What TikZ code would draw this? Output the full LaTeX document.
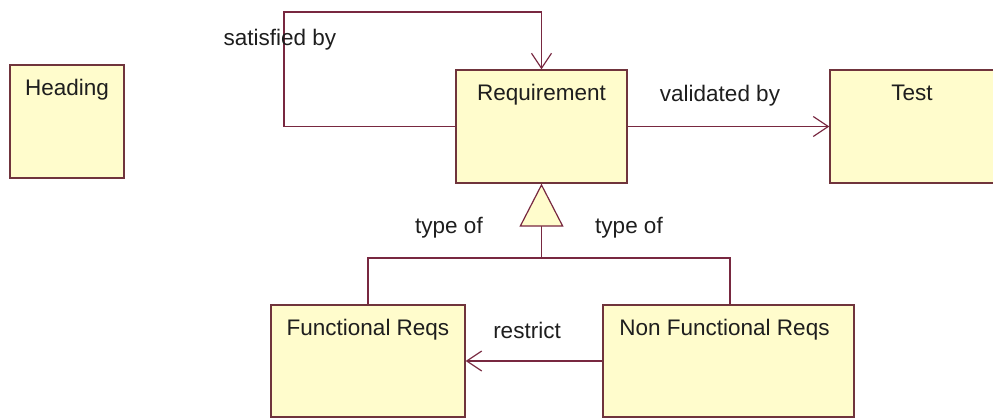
\documentclass[tikz,border=0pt]{standalone}
\usepackage{fontspec}
\setmainfont{Liberation Sans}
\usetikzlibrary{arrows.meta}
\definecolor{boxfill}{RGB}{255,252,204}
\definecolor{boxline}{RGB}{112,52,60}
\definecolor{conline}{RGB}{120,40,64}
\definecolor{txtcol}{RGB}{30,30,30}
\begin{document}
\begin{tikzpicture}[x=1pt,y=-1pt,
  font=\fontsize{22.5}{26}\selectfont,
  box/.style={draw=boxline, fill=boxfill, line width=1.3pt, inner sep=0pt},
  boxtext/.style={anchor=north, text=txtcol, inner sep=0pt, yshift=-15pt},
  lbl/.style={text=txtcol, inner sep=0pt},
  con/.style={draw=conline, line width=1.2pt},
  barb/.style={-{Straight Barb[length=15pt,width=20pt,line width=1.2pt]}},
  gentip/.style={-{Triangle[open, length=43pt, width=44pt, line width=1.2pt, fill=boxfill]}}
]
\useasboundingbox (0,0) rectangle (993,418);
\fill[white] (0,0) rectangle (993,418);

\node[box, minimum width=114pt, minimum height=113pt,
  label={[boxtext]north:Heading}] (head) at (67,121.5) {};
\node[box, minimum width=171pt, minimum height=113pt,
  label={[boxtext]north:Requirement}] (req) at (541.5,126.5) {};
\node[box, minimum width=180pt, minimum height=113pt,
  label={[boxtext, xshift=-8pt]north:Test}] (test) at (920,126.5) {};
\node[box, minimum width=194pt, minimum height=112pt,
  label={[boxtext]north:Functional Reqs}] (fr) at (368,361) {};
\node[box, minimum width=251pt, minimum height=112pt,
  label={[boxtext, xshift=-4pt]north:Non Functional Reqs}] (nfr) at (728.5,361) {};

% self association
\coordinate (loopA) at (284,12);
\draw[con, barb] (req.west) -| (loopA) -| (req.north);
\node[lbl] (sat) at (280,40) {satisfied by};

% validated by
\draw[con, barb] (req.east) -- (test.west);
\node[lbl] (val) at (720,96) {validated by};

% generalization
\coordinate (gen) at (541.5,258);
\draw[con] (fr.north) |- (gen);
\draw[con] (nfr.north -| 730,0) |- (gen);
\draw[con, gentip] (gen) -- (req.south);
\node[lbl] (t1) at (449,228) {type of};
\node[lbl] (t2) at (629,228) {type of};

% restrict
\draw[con, barb] (nfr.west) -- (fr.east);
\node[lbl] (res) at (527,330) {restrict};
\end{tikzpicture}
\end{document}
